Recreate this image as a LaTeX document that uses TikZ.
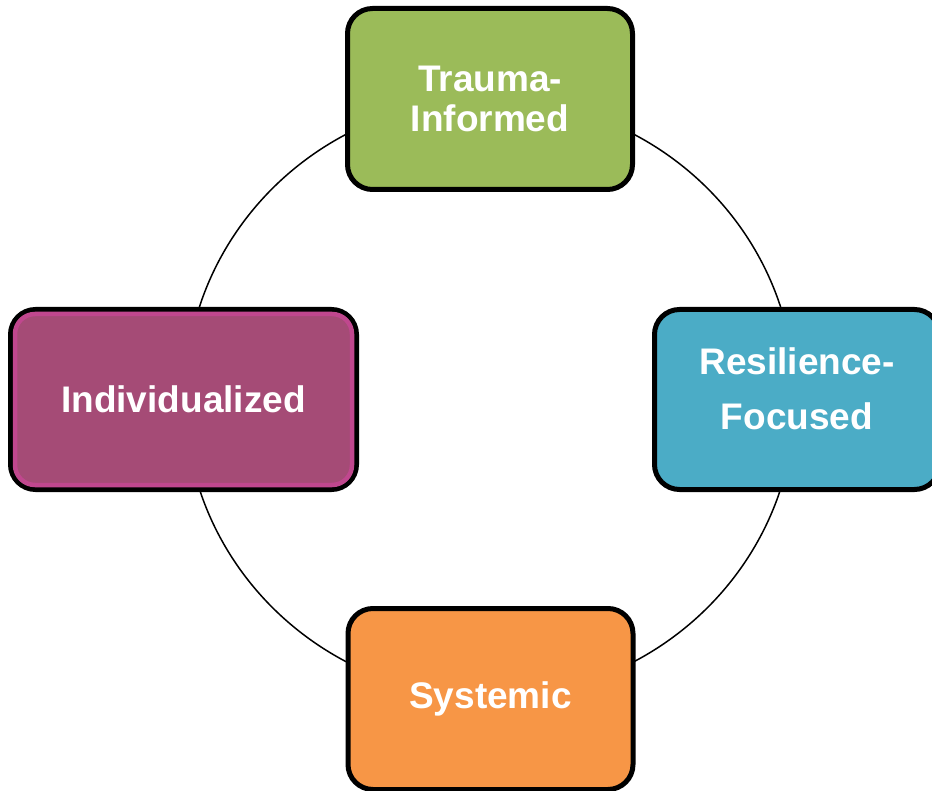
\documentclass[tikz,border=0pt]{standalone}
\usepackage{fontspec}
\setmainfont{Liberation Sans}
\usetikzlibrary{calc,positioning}

\definecolor{traumagreen}{HTML}{9BBB59}
\definecolor{resilblue}{HTML}{4BACC6}
\definecolor{systemorange}{HTML}{F79646}
\definecolor{indivpurple}{HTML}{A54B76}
\definecolor{indivpink}{HTML}{C0478E}

\begin{document}
\begin{tikzpicture}[x=1pt,y=-1pt,
box/.style={rectangle, draw=black, rounded corners=25pt, line width=5pt, inner sep=0pt,
  text=white, align=center, minimum width=285pt, minimum height=181pt,
  font=\bfseries\fontsize{37}{40}\selectfont},
ring/.style={draw=black, line width=1.5pt},
inner/.style={draw=indivpink, line width=4.5pt, rounded corners=20pt}]

%% local variables
\def \cx {490}
\def \cy {398}

\useasboundingbox (0,0) rectangle (932,791);
\clip (0,0) rectangle (932,791);

%% the cycle behind all boxes
\draw[ring] (\cx,\cy) ellipse [x radius=305pt, y radius=299pt];

%% place all boxes
\node[box, fill=traumagreen] (trauma) at (490,99) {Trauma-\\Informed};
\node[box, fill=indivpurple, minimum width=346pt, minimum height=180pt] (indiv) at (183.5,399.5) {Individualized};
\node[box, fill=resilblue, minimum height=180pt, text depth=22pt,
  font=\bfseries\fontsize{37}{55}\selectfont] (resil) at (797,399.5) {Resilience-\\Focused};
\node[box, fill=systemorange] (system) at (490.5,699) {Systemic};

%% pink rim inside the individualized box
\draw[inner] ([shift={(7pt,-7pt)}]indiv.north west) rectangle ([shift={(-7pt,7pt)}]indiv.south east);

\end{tikzpicture}
\end{document}
